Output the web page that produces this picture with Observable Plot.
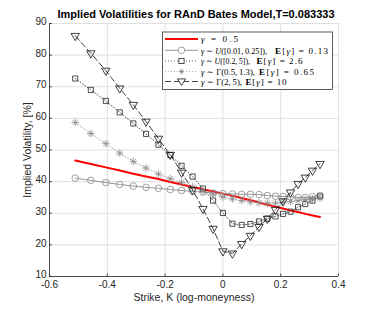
<!DOCTYPE html>
<html>
<head>
<meta charset="utf-8">
<script src="https://cdn.jsdelivr.net/npm/d3@7"></script>
<script src="https://cdn.jsdelivr.net/npm/@observablehq/plot@0.6"></script>
<style>
  html, body { margin: 0; padding: 0; background: #fff; }
  #chart { width: 374px; height: 311px; }
</style>
</head>
<body>
<div id="chart"></div>
<script>
// log-moneyness strikes
const strikes = [-0.511,-0.457,-0.405,-0.357,-0.310,-0.266,-0.223,-0.182,-0.143,-0.105,-0.069,-0.034,0,0.033,0.065,0.095,0.125,0.154,0.182,0.208,0.234,0.260,0.285,0.310,0.336];
// gamma = 0.5
const volConst = [46.7,45.6,44.5,43.5,42.5,41.6,40.8,39.9,39.1,38.3,37.6,36.9,36.2,35.5,34.8,34.1,33.4,32.7,32.1,31.5,30.9,30.4,29.8,29.3,28.8];
// gamma ~ U([0.01,0.25])
const volUnifSmall = [41.1,40.4,39.7,39.1,38.6,38.2,37.9,37.5,37.2,36.9,36.7,36.4,36.2,36.1,36.0,36.0,35.9,35.6,35.4,35.3,35.2,35.0,35.0,35.2,35.6];
// gamma ~ U([0.2,5])
const volUnifWide = [72.6,69.0,65.5,61.9,58.4,55.1,51.7,48.4,45.0,41.6,37.8,34.0,30.1,26.7,26.3,26.6,27.4,28.3,29.0,29.8,30.5,31.9,32.9,34.0,35.3];
// gamma ~ Gamma(0.5,1.3)
const volGammaSmall = [58.7,55.2,52.0,49.0,46.4,44.3,42.4,40.9,39.7,38.3,37.0,36.1,35.1,34.5,34.0,33.6,33.3,33.2,33.2,33.4,33.7,34.0,34.3,34.5,34.8];
// gamma ~ Gamma(2,5)
const volGammaLarge = [86.1,80.6,75.1,69.5,64.3,59.0,53.6,48.5,42.9,37.4,31.4,25.1,18.0,17.3,20.3,22.9,25.7,28.3,31.1,33.8,36.6,39.3,41.3,43.5,45.6];

const xTicks = [-0.6,-0.4,-0.2,0,0.2,0.4];
const yTicks = [10,20,30,40,50,60,70,80,90];

const titleText = "Implied Volatilities for RAnD Bates Model,T=0.083333";
const xLabel = "Strike, K (log-moneyness)";
const yLabel = "Implied Volatility, [%]";

const tbl = arr => strikes.map((k, i) => ({k, v: arr[i]}));
const dConst = tbl(volConst), dUS = tbl(volUnifSmall), dUW = tbl(volUnifWide), dGS = tbl(volGammaSmall), dGL = tbl(volGammaLarge);

const W = 374, H = 311;
const mL = 49, mR = 36, mT = 23, mB = 35;
const axisColor = "#262626";

const chart = Plot.plot({
  width: W, height: H,
  marginLeft: mL, marginRight: mR, marginTop: mT, marginBottom: mB,
  style: {fontFamily: "'Liberation Sans', Arial, sans-serif", fontSize: "10px", color: axisColor, background: "#fff"},
  x: {domain: [-0.6, 0.4]},
  y: {domain: [10, 90]},
  marks: [
    Plot.gridX(xTicks, {stroke: "#e0e0e0", strokeOpacity: 1}),
    Plot.gridY(yTicks, {stroke: "#e0e0e0", strokeOpacity: 1}),
    Plot.ruleX(xTicks, {y1: 10, y2: 10.8, stroke: axisColor, strokeWidth: 0.8}),
    Plot.ruleY(yTicks, {x1: -0.6, x2: -0.59, stroke: axisColor, strokeWidth: 0.8}),
    Plot.ruleX([-0.6], {stroke: axisColor, strokeWidth: 0.8}),
    Plot.ruleY([10], {stroke: axisColor, strokeWidth: 0.8}),
    Plot.axisX({ticks: xTicks, tickFormat: d => d === 0 ? "0" : String(d), tickSize: 0, tickPadding: 4, label: null, color: axisColor}),
    Plot.axisY({ticks: yTicks, tickSize: 0, tickPadding: 3, label: null, color: axisColor, dy: -1.5}),
    // gamma = 0.5
    Plot.line(dConst, {x: "k", y: "v", stroke: "#ff0000", strokeWidth: 2}),
    // U small
    Plot.line(dUS, {x: "k", y: "v", stroke: "#8a8a8a", strokeWidth: 0.9}),
    Plot.dot(dUS, {x: "k", y: "v", symbol: "circle", r: 3.3, stroke: "#8a8a8a", strokeWidth: 0.8, fill: "none"}),
    // U wide
    Plot.line(dUW, {x: "k", y: "v", stroke: "#333", strokeWidth: 0.8, strokeDasharray: "1,2"}),
    Plot.dot(dUW, {x: "k", y: "v", symbol: "square", r: 2.9, stroke: "#222", strokeWidth: 0.8, fill: "none"}),
    // Gamma small
    Plot.line(dGS, {x: "k", y: "v", stroke: "#9a9a9a", strokeWidth: 0.8, strokeDasharray: "1,2"}),
    Plot.dot(dGS, {x: "k", y: "v", symbol: "plus", r: 2.6, stroke: "#8a8a8a", strokeWidth: 0.8}),
    Plot.dot(dGS, {x: "k", y: "v", symbol: "times", r: 2.6, stroke: "#8a8a8a", strokeWidth: 0.8}),
    // Gamma large
    Plot.line(dGL, {x: "k", y: "v", stroke: "#111", strokeWidth: 0.8, strokeDasharray: "6,3"}),
    Plot.dot(dGL, {x: "k", y: "v", symbol: "triangle", rotate: 180, r: 3.1, stroke: "#111", strokeWidth: 0.8, fill: "none"})
  ]
});
document.getElementById("chart").appendChild(chart);

const svg = d3.select(chart);
const sans = "'Liberation Sans', Arial, sans-serif";
// title
svg.append("text").attr("x", 196).attr("y", 18).attr("text-anchor", "middle")
  .attr("font-family", sans).attr("font-size", "11px").attr("font-weight", "bold").attr("fill", "#000")
  .text(titleText);
// axis labels
svg.append("text").attr("x", 194).attr("y", 300.5).attr("text-anchor", "middle")
  .attr("font-family", sans).attr("font-size", "10.5px").attr("fill", axisColor)
  .text(xLabel);
svg.append("text").attr("transform", "translate(31,150) rotate(-90)").attr("text-anchor", "middle")
  .attr("font-family", sans).attr("font-size", "10.5px").attr("fill", axisColor)
  .text(yLabel);

// legend
const lg = svg.append("g").attr("font-family", "'Liberation Serif', 'DejaVu Serif', serif").attr("font-size", "9px")
  .attr("fill", "#000").attr("text-anchor", "start");
lg.append("rect").attr("x", 162.5).attr("y", 32).attr("width", 170).attr("height", 57.5)
  .attr("fill", "#fff").attr("stroke", "#333").attr("stroke-width", 0.8);
const rows = [
  {y: 39, stroke: "#ff0000", sw: 2, dash: null, sym: null},
  {y: 50.3, stroke: "#8a8a8a", sw: 0.9, dash: null, sym: "circle"},
  {y: 61, stroke: "#333", sw: 0.8, dash: "1,2", sym: "square"},
  {y: 71.5, stroke: "#9a9a9a", sw: 0.8, dash: "1,2", sym: "star"},
  {y: 81.5, stroke: "#111", sw: 0.8, dash: "6,3", sym: "tri"}
];
rows.forEach(r => {
  const ln = lg.append("line").attr("x1", 165).attr("x2", 198).attr("y1", r.y).attr("y2", r.y)
    .attr("stroke", r.stroke).attr("stroke-width", r.sw);
  if (r.dash) ln.attr("stroke-dasharray", r.dash);
  const cx = 181.5;
  if (r.sym === "circle") lg.append("circle").attr("cx", cx).attr("cy", r.y).attr("r", 3.3).attr("fill", "#fff").attr("stroke", "#8a8a8a").attr("stroke-width", 0.8);
  if (r.sym === "square") lg.append("rect").attr("x", cx - 2.6).attr("y", r.y - 2.6).attr("width", 5.2).attr("height", 5.2).attr("fill", "#fff").attr("stroke", "#222").attr("stroke-width", 0.8);
  if (r.sym === "star") {
    lg.append("path").attr("d", `M${cx-2.6},${r.y}H${cx+2.6}M${cx},${r.y-2.6}V${r.y+2.6}M${cx-1.9},${r.y-1.9}L${cx+1.9},${r.y+1.9}M${cx-1.9},${r.y+1.9}L${cx+1.9},${r.y-1.9}`)
      .attr("stroke", "#8a8a8a").attr("stroke-width", 0.8).attr("fill", "none");
  }
  if (r.sym === "tri") lg.append("path").attr("d", `M${cx-4},${r.y-2.6}L${cx+4},${r.y-2.6}L${cx},${r.y+4}Z`).attr("fill", "#fff").attr("stroke", "#111").attr("stroke-width", 0.8);
});
function addText(x, y, len, parts) {
  const t = lg.append("text").attr("x", x).attr("y", y + 3.2).attr("text-anchor", "start");
  parts.forEach(p => {
    const s = t.append("tspan").text(p[0]);
    if (p[1] === "i") s.attr("font-style", "italic");
    if (p[1] === "b") s.attr("font-weight", "bold");
  });
  let nat = len;
  try { nat = t.node().getComputedTextLength(); } catch (e) {}
  if (nat > len) t.attr("textLength", len).attr("lengthAdjust", "spacingAndGlyphs");
  else t.attr("textLength", len).attr("lengthAdjust", "spacing");
}
addText(201, 39, 37, [["γ", "i"], [" = 0.5"]]);
addText(201, 50.3, 66, [["γ", "i"], [" ∼ "], ["U", "i"], ["([0.01,\u20090.25]),"]]);
addText(275, 50.3, 53, [["E", "b"], ["["], ["γ", "i"], ["] = 0.13"]]);
addText(201, 61, 49, [["γ", "i"], [" ∼ "], ["U", "i"], ["([0.2,\u20095]),"]]);
addText(256.5, 61, 46, [["E", "b"], ["["], ["γ", "i"], ["] = 2.6"]]);
addText(201, 71.5, 54, [["γ", "i"], [" ∼ Γ(0.5,\u20091.3),"]]);
addText(259, 71.5, 55, [["E", "b"], ["["], ["γ", "i"], ["] = 0.65"]]);
addText(201, 81.5, 41, [["γ", "i"], [" ∼ Γ(2,\u20095),"]]);
addText(245.5, 81.5, 41, [["E", "b"], ["["], ["γ", "i"], ["] = 10"]]);
</script>
</body>
</html>
